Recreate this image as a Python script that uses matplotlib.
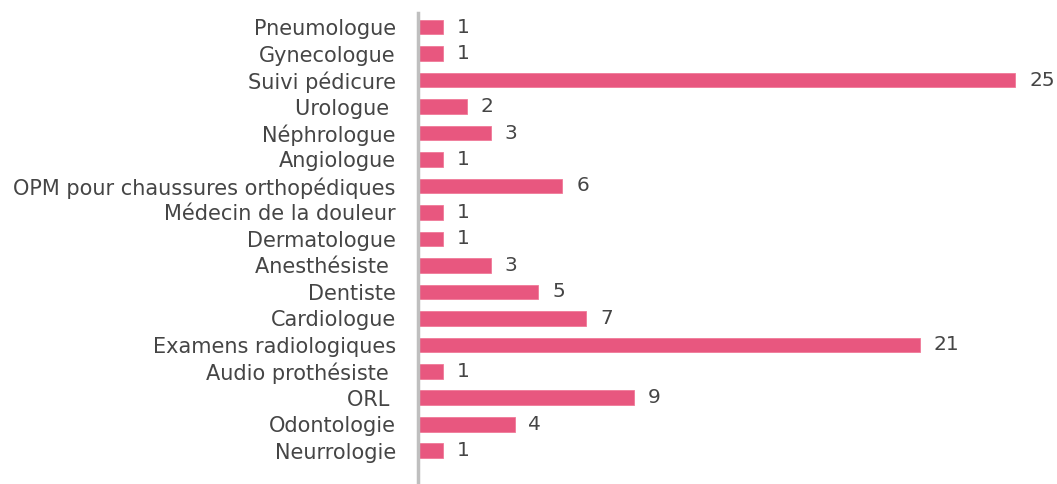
import matplotlib.pyplot as plt
import numpy as np

plt.rcParams["font.family"] = ["Bitstream Vera Sans", "DejaVu Sans"]

categories = [
    "Pneumologue", "Gynecologue", "Suivi pédicure", "Urologue ", "Néphrologue",
    "Angiologue", "OPM pour chaussures orthopédiques", "Médecin de la douleur",
    "Dermatologue", "Anesthésiste ", "Dentiste", "Cardiologue",
    "Examens radiologiques", "Audio prothésiste ", "ORL ", "Odontologie",
    "Neurrologie",
]
values = [1, 1, 25, 2, 3, 1, 6, 1, 1, 3, 5, 7, 21, 1, 9, 4, 1]

bar_color = "#E8577F"
text_color = "#454545"

fig = plt.figure(figsize=(10.57, 4.84), dpi=100)
ax = fig.add_axes([418 / 1057, 0, 1 - 418 / 1057, 471 / 484])

y = np.arange(len(categories))
ax.barh(y, values, height=0.56, color=bar_color, edgecolor="#F07A98",
        linewidth=0.6, left=0.05)

for yi, v in zip(y, values):
    ax.annotate(str(v), (v + 0.05, yi), xytext=(10, 0), textcoords="offset points",
                va="center", ha="left", fontsize=14.5, color=text_color)

ax.set_yticks(y)
ax.set_yticklabels(categories, fontsize=15, color=text_color)
ax.tick_params(axis="y", length=0, pad=16)
ax.set_xticks([])
ax.set_xlim(0, 26.8)
ax.set_ylim(17.25, -0.53)

for side in ["top", "right", "bottom"]:
    ax.spines[side].set_visible(False)
ax.spines["left"].set_color("#BFBFBF")
ax.spines["left"].set_linewidth(2.5)

fig.savefig("out.png", dpi=100)
